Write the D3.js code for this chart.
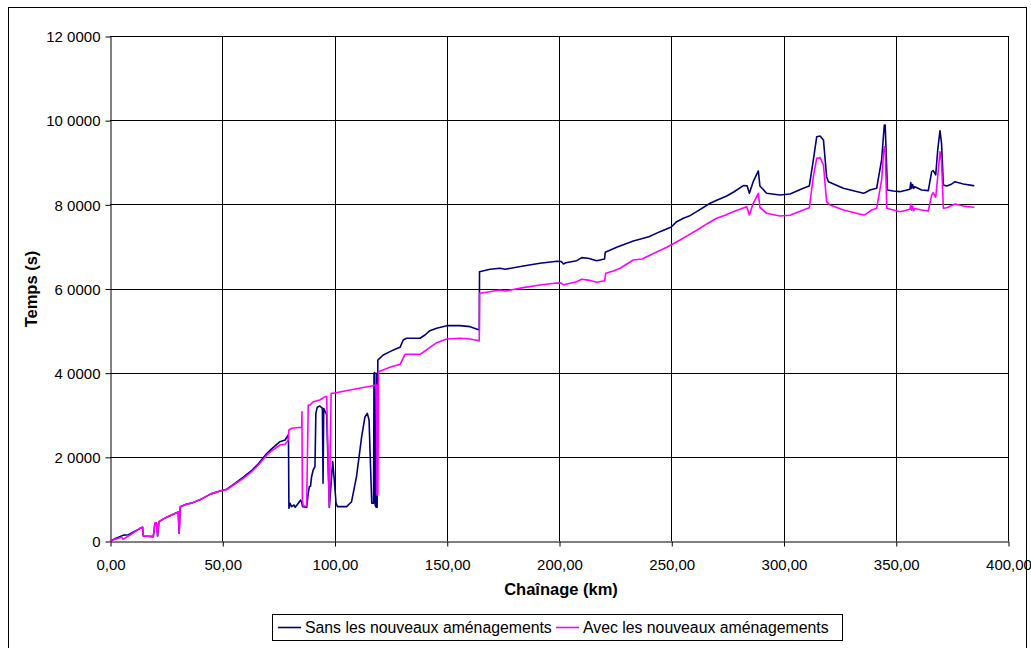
<!DOCTYPE html>
<html>
<head>
<meta charset="utf-8">
<script src="https://cdn.jsdelivr.net/npm/d3@7"></script>
<style>
  html, body { margin: 0; padding: 0; background: #fff; }
  svg { display: block; font-family: "Liberation Sans", Arial, sans-serif; }
</style>
</head>
<body>
<svg id="chart" width="1031" height="648"></svg>
<script>
// ---------- DATA ----------
const xTickValues = [0, 50, 100, 150, 200, 250, 300, 350, 400];
const xTickLabels = ["0,00", "50,00", "100,00", "150,00", "200,00", "250,00", "300,00", "350,00", "400,00"];
const yTickValues = [0, 2000, 4000, 6000, 8000, 10000, 12000];
const yTickLabels = ["0", "2 0000", "4 0000", "6 0000", "8 0000", "10 0000", "12 0000"];
const seriesNames = ["Sans les nouveaux aménagements", "Avec les nouveaux aménagements"];

// Series 1 : Sans les nouveaux aménagements (chaînage km, temps)
const sansKm = [0,3,6,8.2,13.4,14.5,14.8,19.3,20,20.7,21.2,21.8,25,30.4,30.8,31.3,34.2,36.4,40.8,45,49,52,55,59.4,63,66,69.8,72,75.7,78,79.4,79.5,79.7,80.2,80.9,82,82.5,83.9,84.9,85.3,85.8,87.6,88.3,88.8,89.3,89.8,90.5,91.3,91.7,92.3,93.5,94.6,94.9,95.2,96.5,97.7,99.2,99.9,100.7,101.3,105.4,107.6,109.8,112.1,113.6,114.6,115.4,116.1,116.6,117.4,117.6,117.9,118.1,118.6,118.8,119.0,119.3,121.7,124.7,127,129.2,130.6,132.1,138.1,140.3,142.5,145.5,150,155.9,160.4,164.5,164.6,169.3,173.7,176,184.1,191.5,199,201,202,203,207.9,210.1,213,216.8,219.7,220.3,220.6,225.7,233.1,237.6,240,245,250,252.4,255.4,258,261.3,267.3,270,274.7,278,282.1,283.8,284.8,286.5,288.8,289.5,292.5,298.4,302.9,308.8,311.5,313.3,314.8,316.3,317.8,319.2,320,326.7,335.6,336.5,338.5,341.5,343.7,344.9,345.3,346.3,348.9,351.9,356.3,356.7,357.1,357.5,358,358.5,361.5,364.5,366,366.7,367.8,368.7,369.7,370.4,371.2,372.7,374.5,376.4,380.1,384.5,385];
const sansTemps = [0,70,140,150,301,330,119,103,420,430,119,459,560,690,182,816,880,900,1000,1120,1190,1230,1345,1520,1670,1830,2080,2190,2360,2400,2519,2450,777,896,816,855,800,896,974,930,816,800,1133,1291,1300,1528,1687,1766,3034,3177,3208,3153,1371,3150,3000,800,1885,1450,896,816,816,934,1528,2479,2954,3034,2875,1687,896,896,3985,4000,850,800,3985,800,4300,4420,4500,4555,4602,4777,4817,4817,4895,4998,5054,5117,5117,5093,5014,6400,6457,6480,6457,6535,6599,6646,6640,6583,6610,6661,6733,6720,6661,6694,6700,6860,6980,7129,7193,7230,7351,7460,7588,7668,7720,7826,8025,8090,8199,8300,8444,8440,8263,8539,8793,8436,8263,8222,8246,8382,8436,9054,9608,9624,9530,8657,8539,8382,8263,8280,8341,8382,9054,9886,9886,8341,8317,8301,8358,8515,8380,8470,8380,8420,8341,8325,8776,8800,8698,9292,9750,9451,8460,8436,8470,8539,8484,8444,8440];

// Series 2 : Avec les nouveaux aménagements (chaînage km, temps)
const avecKm = [0,5.2,5.8,8.2,13.4,14.5,14.8,19.3,20,20.7,21.2,21.8,25,30.4,30.8,31.3,34.2,36.4,40.8,45,49,52,55,59.4,63,66,69.8,72,75.7,78,79.4,79.7,80.9,85.4,85.5,85.7,86.1,87.6,88.3,89.1,90.5,93.5,95.8,96.5,97.7,98.5,99.3,118.8,118.9,119.3,119.6,124.7,129.2,131.4,138.1,140.3,142.5,145.5,150,155.9,160.4,164.5,164.6,169.3,173.7,176,184.1,191.5,199,201,202,203,207.9,210.1,213,216.8,219.7,220.3,220.8,224.2,227.2,233.1,237,240,248,253.9,258,262.8,266,270.2,274,277.6,283.6,284.8,286.5,288.8,289.5,292.5,298.4,302.9,308.8,311.5,313.3,314.8,316.3,317.8,319.2,320.7,326.7,335.6,336.5,339.3,341.5,343.7,344.8,345.3,346,348.9,351.9,356.3,356.7,357.1,357.5,358,358.5,361.5,364.5,366,366.7,367.8,368.7,369.7,370.4,371.2,372.7,376.4,380.1,384.5,385];
const avecTemps = [0,88,40,119,301,330,119,103,420,430,119,459,560,690,182,816,880,900,1000,1120,1190,1220,1330,1490,1640,1800,2040,2140,2281,2300,2400,2638,2678,2702,3073,974,831,831,3232,3232,3310,3350,3430,3430,816,3510,3510,3707,1093,1093,4024,4127,4199,4436,4436,4515,4602,4713,4800,4817,4800,4760,5886,5924,5964,5940,6020,6084,6131,6128,6084,6100,6162,6219,6200,6148,6180,6180,6361,6416,6480,6678,6700,6780,6980,7153,7280,7431,7540,7668,7740,7826,7945,7747,8025,8263,7930,7787,7723,7740,7866,7921,8657,9094,9110,8935,8063,7985,7866,7747,7760,7866,7906,8579,9370,9350,7906,7866,7826,7882,8001,7860,7960,7850,7900,7866,7842,8222,8277,8168,8657,9251,9000,7906,7920,8009,7961,7930,7930];

// ---------- LAYOUT ----------
const svg = d3.select("#chart");
const plot = { left: 110, right: 1008, top: 36, bottom: 541 };
const font = 15;
const titleFont = 16.5;
const legendFont = 15.8;

svg.append("rect").attr("x", 0).attr("y", 0).attr("width", 1031).attr("height", 648).attr("fill", "#fff");
// outer chart border
svg.append("rect").attr("x", 8.5).attr("y", 7.5).attr("width", 1018).attr("height", 700)
  .attr("fill", "none").attr("stroke", "#000").attr("stroke-width", 1);

const x = d3.scaleLinear().domain([0, 400]).range([plot.left, plot.right]);
const y = d3.scaleLinear().domain([0, 12000]).range([plot.bottom, plot.top]);

// gridlines
const g = svg.append("g");
g.selectAll("line.hg").data(yTickValues.filter(v => v > 0)).enter().append("line")
  .attr("x1", plot.left).attr("x2", plot.right)
  .attr("y1", d => Math.round(y(d)) + 0.5).attr("y2", d => Math.round(y(d)) + 0.5)
  .attr("stroke", "#000").attr("stroke-width", 1);
g.selectAll("line.vg").data(xTickValues.filter(v => v > 0)).enter().append("line")
  .attr("y1", plot.top).attr("y2", plot.bottom)
  .attr("x1", d => Math.round(x(d)) + 0.5).attr("x2", d => Math.round(x(d)) + 0.5)
  .attr("stroke", "#000").attr("stroke-width", 1);

// axes
const xAxis = d3.axisBottom(x).tickValues(xTickValues).tickSize(5).tickSizeOuter(0)
  .tickFormat((d, i) => xTickLabels[i]);
const yAxis = d3.axisLeft(y).tickValues(yTickValues).tickSize(5).tickSizeOuter(0)
  .tickFormat((d, i) => yTickLabels[i]);

const gx = svg.append("g").attr("transform", `translate(0.5,${plot.bottom + 0.5})`).call(xAxis);
const gy = svg.append("g").attr("transform", `translate(${plot.left + 0.5},0.5)`).call(yAxis);
[gx, gy].forEach(a => {
  a.selectAll("path").attr("stroke", "#000");
  a.selectAll("line").attr("stroke", "#000");
  a.selectAll("text").attr("font-size", font).attr("font-family", "Liberation Sans, Arial, sans-serif").attr("fill", "#000");
});
gx.selectAll("text").attr("dy", "0").attr("y", 28);
gy.selectAll("text").attr("x", -10).attr("dy", "0.35em");

// axis titles
svg.append("text").attr("x", (plot.left + plot.right) / 2 + 2).attr("y", 595)
  .attr("text-anchor", "middle").attr("font-weight", "bold").attr("font-size", titleFont)
  .text("Chaînage (km)");
svg.append("text").attr("transform", `translate(37,289) rotate(-90)`)
  .attr("text-anchor", "middle").attr("font-weight", "bold").attr("font-size", titleFont)
  .text("Temps (s)");

// lines
const line = d3.line().x(d => x(d[0])).y(d => y(d[1]));
const sansData = sansKm.map((k, i) => [k, sansTemps[i]]);
const avecData = avecKm.map((k, i) => [k, avecTemps[i]]);
const colors = ["#000080", "#FF00FF"];

svg.append("path").datum(sansData).attr("d", line).attr("fill", "none")
  .attr("stroke", colors[0]).attr("stroke-width", 1.6).attr("stroke-linejoin", "round");
svg.append("path").datum(avecData).attr("d", line).attr("fill", "none")
  .attr("stroke", colors[1]).attr("stroke-width", 1.6).attr("stroke-linejoin", "round");

// legend
const lg = svg.append("g");
lg.append("rect").attr("x", 272.5).attr("y", 614.5).attr("width", 570).attr("height", 26)
  .attr("fill", "#fff").attr("stroke", "#000").attr("stroke-width", 1);
const legX = [278, 556];
seriesNames.forEach((name, i) => {
  lg.append("line").attr("x1", legX[i]).attr("x2", legX[i] + 23).attr("y1", 627.5).attr("y2", 627.5)
    .attr("stroke", colors[i]).attr("stroke-width", 1.6);
  lg.append("text").attr("x", legX[i] + 27).attr("y", 633).attr("font-size", legendFont).text(name);
});
</script>
</body>
</html>
